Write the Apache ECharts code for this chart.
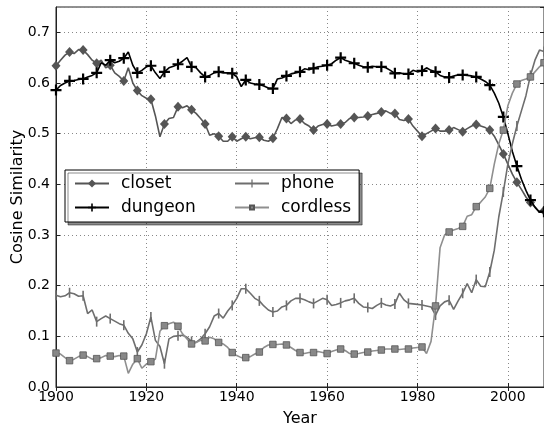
<!DOCTYPE html>
<html>
<head>
<meta charset="utf-8">
<script src="https://cdn.jsdelivr.net/npm/echarts@6/dist/echarts.min.js"></script>
<style>
  html, body { margin: 0; padding: 0; background: #fff; }
  #main { width: 544px; height: 426px; }
</style>
</head>
<body>
<div id="main"></div>
<script>
// annual values, first year 1900, last 2008
var startYear = 1900;

var closet = [
  0.634, 0.645, 0.655, 0.661, 0.658, 0.666, 0.665, 0.656, 0.645, 0.639,
  0.645, 0.630, 0.635, 0.620, 0.613, 0.604, 0.630, 0.600, 0.585, 0.575,
  0.570, 0.568, 0.535, 0.494, 0.519, 0.530, 0.532, 0.553, 0.551, 0.555,
  0.547, 0.540, 0.530, 0.519, 0.497, 0.500, 0.495, 0.485, 0.485, 0.494,
  0.485, 0.490, 0.494, 0.490, 0.492, 0.493, 0.487, 0.485, 0.491, 0.510,
  0.532, 0.530, 0.520, 0.527, 0.529, 0.520, 0.515, 0.507, 0.515, 0.518,
  0.519, 0.515, 0.517, 0.519, 0.522, 0.530, 0.532, 0.532, 0.533, 0.535,
  0.538, 0.540, 0.543, 0.545, 0.540, 0.540, 0.528, 0.526, 0.529, 0.515,
  0.505, 0.495, 0.500, 0.505, 0.510, 0.505, 0.505, 0.507, 0.512, 0.508,
  0.504, 0.510, 0.515, 0.518, 0.515, 0.512, 0.507, 0.495, 0.478, 0.460,
  0.440, 0.420, 0.404, 0.390, 0.375, 0.364, 0.355, 0.345, 0.348
];

var dungeon = [
  0.586, 0.595, 0.600, 0.604, 0.605, 0.607, 0.608, 0.612, 0.615, 0.620,
  0.640, 0.635, 0.645, 0.640, 0.643, 0.649, 0.661, 0.635, 0.620, 0.625,
  0.632, 0.634, 0.620, 0.609, 0.622, 0.630, 0.633, 0.637, 0.643, 0.650,
  0.632, 0.630, 0.620, 0.612, 0.615, 0.620, 0.622, 0.620, 0.620, 0.619,
  0.612, 0.593, 0.606, 0.600, 0.598, 0.597, 0.594, 0.590, 0.589, 0.608,
  0.610, 0.614, 0.618, 0.620, 0.622, 0.628, 0.626, 0.629, 0.632, 0.633,
  0.635, 0.638, 0.645, 0.650, 0.645, 0.642, 0.639, 0.635, 0.632, 0.631,
  0.633, 0.632, 0.632, 0.630, 0.625, 0.619, 0.620, 0.618, 0.618, 0.625,
  0.622, 0.624, 0.630, 0.625, 0.622, 0.615, 0.612, 0.611, 0.614, 0.616,
  0.616, 0.615, 0.614, 0.612, 0.608, 0.603, 0.596, 0.580, 0.560, 0.533,
  0.500, 0.465, 0.436, 0.410, 0.388, 0.369, 0.355, 0.345, 0.346
];

var phone = [
  0.181, 0.178, 0.180, 0.186, 0.184, 0.179, 0.180, 0.145, 0.152, 0.129,
  0.135, 0.140, 0.135, 0.130, 0.125, 0.122, 0.106, 0.095, 0.069, 0.083,
  0.105, 0.138, 0.092, 0.080, 0.046, 0.095, 0.100, 0.101, 0.102, 0.098,
  0.090, 0.088, 0.095, 0.105, 0.119, 0.140, 0.145, 0.136, 0.150, 0.161,
  0.175, 0.194, 0.194, 0.185, 0.175, 0.170, 0.160, 0.152, 0.148, 0.150,
  0.158, 0.161, 0.170, 0.175, 0.175, 0.172, 0.168, 0.165, 0.170, 0.175,
  0.172, 0.161, 0.163, 0.166, 0.170, 0.172, 0.175, 0.165, 0.158, 0.157,
  0.155, 0.161, 0.166, 0.162, 0.160, 0.164, 0.185, 0.172, 0.165, 0.164,
  0.163, 0.162, 0.160, 0.158, 0.142, 0.160, 0.168, 0.171, 0.153, 0.170,
  0.185, 0.204, 0.186, 0.212, 0.199, 0.198, 0.227, 0.270, 0.336, 0.385,
  0.440, 0.480, 0.515, 0.545, 0.575, 0.615, 0.645, 0.665, 0.662
];

var cordless = [
  0.067, 0.065, 0.058, 0.052, 0.055, 0.060, 0.063, 0.060, 0.055, 0.056,
  0.058, 0.062, 0.061, 0.060, 0.062, 0.061, 0.027, 0.045, 0.056, 0.037,
  0.045, 0.050, 0.055, 0.110, 0.121, 0.125, 0.128, 0.120, 0.105, 0.095,
  0.085, 0.088, 0.092, 0.091, 0.098, 0.095, 0.088, 0.085, 0.078, 0.068,
  0.062, 0.058, 0.058, 0.060, 0.065, 0.069, 0.078, 0.083, 0.084, 0.084,
  0.085, 0.083, 0.078, 0.072, 0.068, 0.066, 0.068, 0.068, 0.070, 0.068,
  0.066, 0.070, 0.073, 0.075, 0.072, 0.066, 0.065, 0.066, 0.068, 0.069,
  0.071, 0.072, 0.073, 0.075, 0.075, 0.075, 0.074, 0.075, 0.075, 0.077,
  0.078, 0.079, 0.066, 0.090, 0.160, 0.275, 0.300, 0.306, 0.310, 0.313,
  0.317, 0.337, 0.340, 0.356, 0.365, 0.375, 0.392, 0.440, 0.480, 0.507,
  0.555, 0.580, 0.598, 0.605, 0.608, 0.612, 0.622, 0.632, 0.640
];

var xTicks = [1900, 2008, 20];
var yTicks = [0, 0.75, 0.1];

function toPairs(arr) {
  return arr.map(function (v, i) { return [startYear + i, v]; });
}

// marker on every 3rd year only
function every3(size) {
  return function (val, params) {
    return params.dataIndex % 3 === 0 ? size : 0;
  };
}

var FONT = 'DejaVu Sans';
var plusPath = 'path://M4,0H6V4H10V6H6V10H4V6H0V4H4Z';
// thin vertical bar, kept in a square box so the legend keeps its shape
var barPath = 'path://M0,0M10,10M4.2,0H5.8V10H4.2Z';
// small square with empty margin round it
var squarePath = 'path://M0,0M10,10M2.5,2.5H7.5V7.5H2.5Z';

var chart = echarts.init(document.getElementById('main'), null, { renderer: 'canvas' });

var option = {
  animation: false,
  backgroundColor: '#fff',
  textStyle: { fontFamily: FONT },
  grid: {
    left: 56, right: 0, top: 7, bottom: 39,
    outerBoundsMode: 'none',
    containLabel: false,
    show: true, borderColor: '#222', borderWidth: 1
  },
  legend: {
    left: 65, top: 170,
    width: 285,
    orient: 'horizontal',
    padding: [4, 8, 5, 9],
    itemGap: 5,
    itemWidth: 34, itemHeight: 10,
    backgroundColor: '#fff',
    borderColor: '#000', borderWidth: 1, borderRadius: 0,
    shadowColor: 'rgba(0,0,0,0.45)', shadowBlur: 0, shadowOffsetX: 3, shadowOffsetY: 3,
    textStyle: { fontFamily: FONT, fontSize: 17, color: '#000', lineHeight: 19, padding: [0, 0, 0, 7] },
    data: [
      { name: 'closet', textStyle: { width: 108 } },
      { name: 'phone' },
      { name: 'dungeon', textStyle: { width: 108 } },
      { name: 'cordless' }
    ]
  },
  xAxis: [{
    type: 'value',
    min: xTicks[0], max: xTicks[1], interval: xTicks[2],
    name: 'Year', nameLocation: 'middle', nameGap: 24, nameMoveOverlap: false,
    nameTextStyle: { fontFamily: FONT, fontSize: 16, color: '#000' },
    axisLine: { show: true, lineStyle: { color: '#222', width: 1 } },
    axisTick: { show: true, inside: true, length: 4, lineStyle: { color: '#222' } },
    axisLabel: { color: '#000', fontSize: 14, margin: 3, showMaxLabel: false,
      formatter: function (v) { return String(v); } },
    splitLine: { show: true, lineStyle: { color: '#888', type: [1, 3], width: 1 } }
  }, {
    type: 'value', position: 'top',
    min: xTicks[0], max: xTicks[1], interval: xTicks[2],
    axisLine: { show: false },
    axisTick: { show: true, inside: true, length: 4, lineStyle: { color: '#222' } },
    axisLabel: { show: false }, splitLine: { show: false }
  }],
  yAxis: [{
    type: 'value',
    min: yTicks[0], max: yTicks[1], interval: yTicks[2],
    name: 'Cosine Similarity', nameLocation: 'middle', nameGap: 30, nameRotate: 90,
    nameMoveOverlap: false,
    nameTextStyle: { fontFamily: FONT, fontSize: 16, color: '#000' },
    axisLine: { show: true, lineStyle: { color: '#222', width: 1 } },
    axisTick: { show: true, inside: true, length: 4, lineStyle: { color: '#222' } },
    axisLabel: { color: '#000', fontSize: 14, margin: 6, showMaxLabel: false,
      formatter: function (v) { return v.toFixed(1); } },
    splitLine: { show: true, lineStyle: { color: '#888', type: [1, 3], width: 1 } }
  }, {
    type: 'value', position: 'right',
    min: yTicks[0], max: yTicks[1], interval: yTicks[2],
    axisLine: { show: false },
    axisTick: { show: true, inside: true, length: 4, lineStyle: { color: '#222' } },
    axisLabel: { show: false }, splitLine: { show: false }
  }],
  series: [
    {
      name: 'closet', type: 'line', data: toPairs(closet),
      showAllSymbol: true, symbol: 'diamond', symbolSize: every3([9, 10]),
      lineStyle: { color: '#555', width: 1.6 },
      itemStyle: { color: '#555' },
      z: 3
    },
    {
      name: 'dungeon', type: 'line', data: toPairs(dungeon),
      showAllSymbol: true, symbol: plusPath, symbolSize: every3(11),
      lineStyle: { color: '#000', width: 1.6 },
      itemStyle: { color: '#000' },
      z: 4
    },
    {
      name: 'phone', type: 'line', data: toPairs(phone),
      showAllSymbol: true, symbol: barPath, symbolKeepAspect: true, symbolSize: every3(10),
      lineStyle: { color: '#6e6e6e', width: 1.6 },
      itemStyle: { color: '#6e6e6e' },
      z: 5
    },
    {
      name: 'cordless', type: 'line', data: toPairs(cordless),
      showAllSymbol: true, symbol: squarePath, symbolKeepAspect: true, symbolSize: every3(13),
      lineStyle: { color: '#8f8f8f', width: 1.6 },
      itemStyle: { color: '#888', borderColor: '#555', borderWidth: 0.8 },
      z: 6
    }
  ]
};

chart.setOption(option);
</script>
</body>
</html>
